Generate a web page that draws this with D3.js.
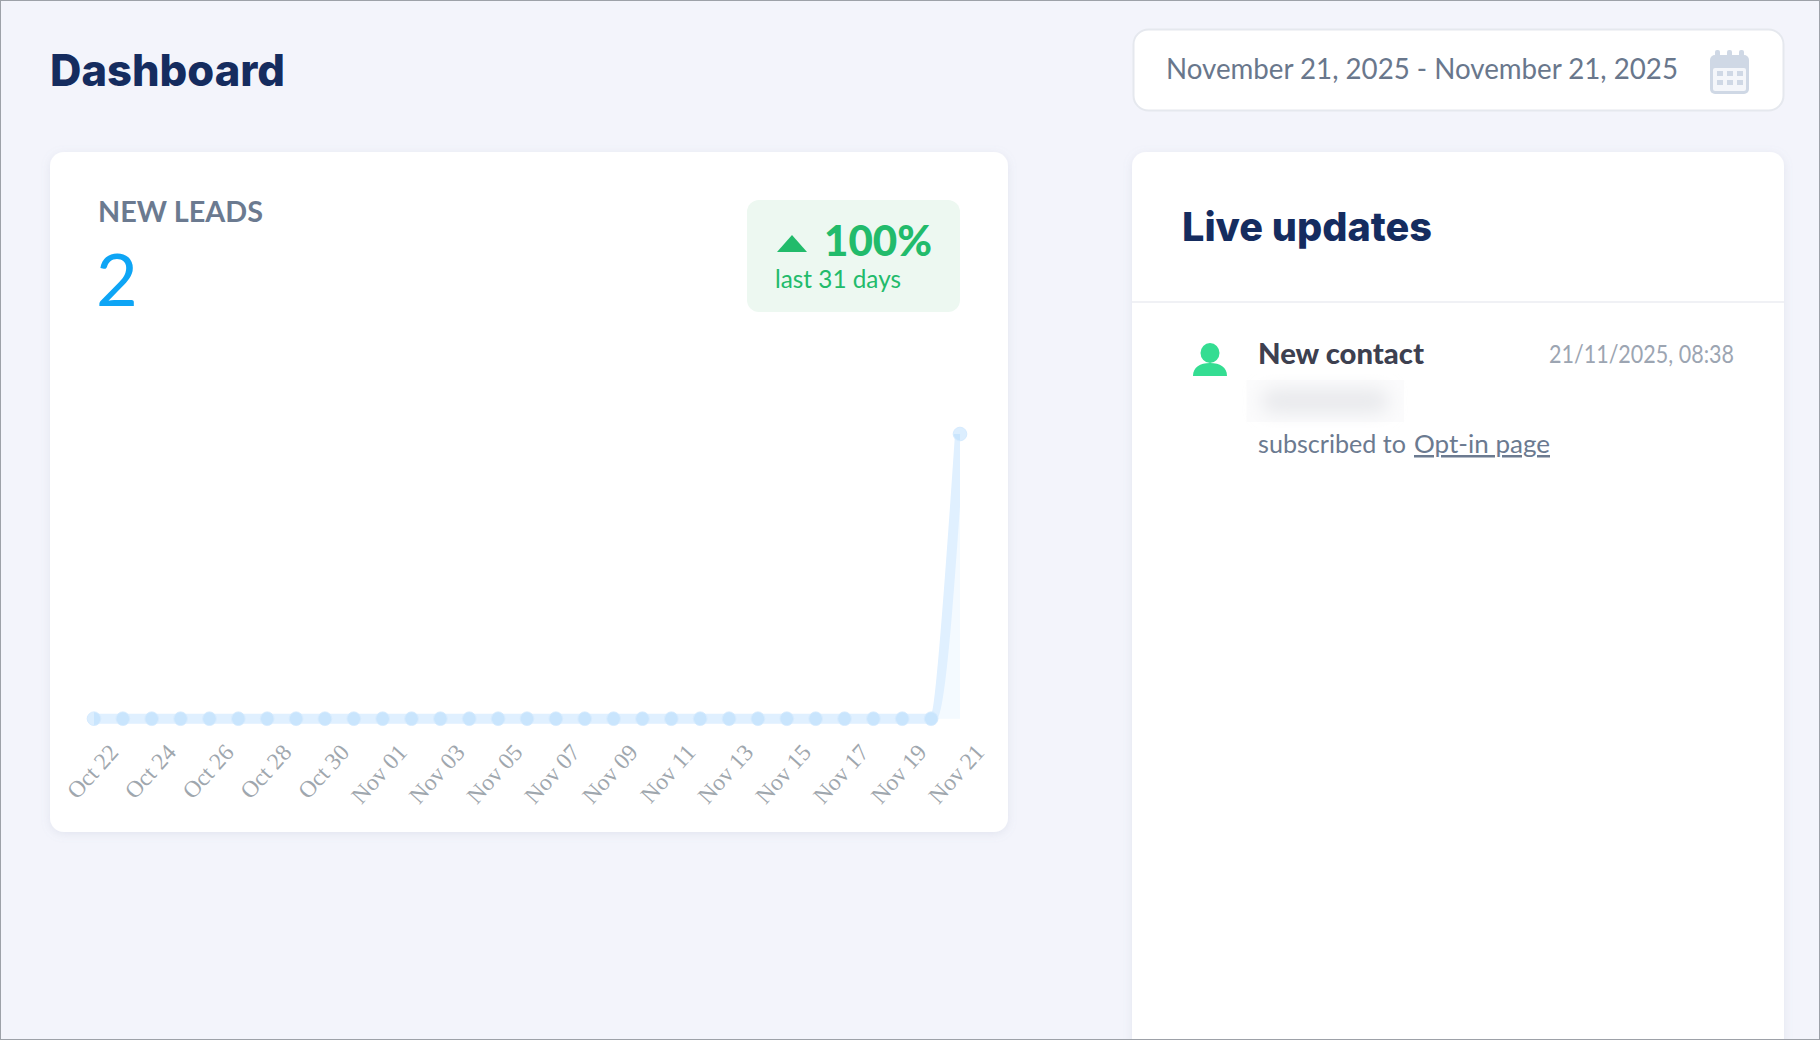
<!DOCTYPE html>
<html>
<head>
<meta charset="utf-8">
<script src="https://cdn.jsdelivr.net/npm/d3@7"></script>
<style>
  html, body { margin: 0; padding: 0; background: #f3f4fb; overflow: hidden; }
  svg { display: block; }
  .ui { font-family: Lato, sans-serif; }
  .head { font-family: Inter, sans-serif; font-weight: 800; fill: #152c5f; }
  .tick text { font-family: "Liberation Serif", serif; font-size: 23.5px; fill: #9fa7ae; }
</style>
</head>
<body>
<svg id="page" width="1820" height="1040"></svg>
<script>
// daily new leads, last 31 days
const days = ['Oct 22','Oct 23','Oct 24','Oct 25','Oct 26','Oct 27','Oct 28','Oct 29','Oct 30','Oct 31',
  'Nov 01','Nov 02','Nov 03','Nov 04','Nov 05','Nov 06','Nov 07','Nov 08','Nov 09','Nov 10',
  'Nov 11','Nov 12','Nov 13','Nov 14','Nov 15','Nov 16','Nov 17','Nov 18','Nov 19','Nov 20','Nov 21'];
const leads = [0,0,0,0,0,0,0,0,0,0, 0,0,0,0,0,0,0,0,0,0, 0,0,0,0,0,0,0,0,0,0, 2];
const tickLabels = ['Oct 22','Oct 24','Oct 26','Oct 28','Oct 30','Nov 01','Nov 03','Nov 05',
  'Nov 07','Nov 09','Nov 11','Nov 13','Nov 15','Nov 17','Nov 19','Nov 21'];
const calendarCols = [0, 1, 2];
const calendarRows = [0, 1];

const svg = d3.select('#page');
const defs = svg.append('defs');

let soft = defs.append('filter').attr('id', 'soft')
  .attr('x', '-10%').attr('y', '-10%').attr('width', '120%').attr('height', '130%');
soft.append('feDropShadow').attr('dx', 0).attr('dy', 2).attr('stdDeviation', 5)
  .attr('flood-color', '#8a94b0').attr('flood-opacity', 0.16);
defs.append('filter').attr('id', 'smear')
  .attr('x', '-30%').attr('y', '-60%').attr('width', '160%').attr('height', '220%')
  .append('feGaussianBlur').attr('stdDeviation', 9);

// w squeezes the text to the width measured on the reference
function label(g, str, x, y, size, fill, weight, w, cls) {
  let t = g.append('text')
    .attr('class', cls || 'ui')
    .attr('x', x).attr('y', y)
    .attr('font-size', size)
    .attr('font-weight', weight || 400)
    .attr('fill', fill)
    .text(str);
  if (w) t.attr('textLength', w).attr('lengthAdjust', 'spacingAndGlyphs');
  return t;
}

svg.append('rect').attr('width', 1820).attr('height', 1040).attr('fill', '#f3f4fb');

label(svg, 'Dashboard', 50, 86, 44, '#152c5f', 800, 235, 'head');

// date picker
svg.append('rect').attr('x', 1133.5).attr('y', 29.5).attr('width', 650).attr('height', 81).attr('rx', 15)
  .attr('fill', '#fff').attr('stroke', '#e5e8ee').attr('stroke-width', 2);
label(svg, 'November 21, 2025 - November 21, 2025', 1166, 79, 29, '#69778c', 400, 512);

let cal = svg.append('g').attr('transform', 'translate(1710,50)').attr('fill', '#cfd8e5');
cal.append('rect').attr('y', 5).attr('width', 39).attr('height', 39).attr('rx', 5);
cal.selectAll('.peg').data(calendarCols).join('rect').attr('class', 'peg')
  .attr('x', d => 5 + d * 12).attr('width', 5).attr('height', 10).attr('rx', 2);
cal.append('rect').attr('x', 3).attr('y', 18).attr('width', 33).attr('height', 23).attr('rx', 2).attr('fill', '#f4f6fa');
calendarRows.forEach(r => {
  cal.selectAll('.cell' + r).data(calendarCols).join('rect').attr('class', 'cell' + r)
    .attr('x', d => 7 + d * 10).attr('y', 21 + r * 9).attr('width', 6).attr('height', 5);
});

// leads card
svg.append('rect').attr('x', 50).attr('y', 152).attr('width', 958).attr('height', 680).attr('rx', 14)
  .attr('fill', '#fff').attr('filter', 'url(#soft)');
label(svg, 'NEW LEADS', 98, 222, 28, '#6b7a90', 700, 165);
label(svg, '2', 96, 306, 72, '#0ea5f5', 400);

svg.append('rect').attr('x', 747).attr('y', 200).attr('width', 213).attr('height', 112).attr('rx', 12).attr('fill', '#edf8f1');
svg.append('path').attr('d', d3.line()([[777, 252], [792, 235], [807, 252]]) + 'Z').attr('fill', '#22bb6b');
label(svg, '100%', 824, 256, 42, '#22bb6b', 900, 108);
label(svg, 'last 31 days', 775, 288, 25, '#22bb6b', 400, 126);

// chart
const x = d3.scalePoint().domain(days).range([94, 960]);
const y = d3.scaleLinear().domain([0, 2]).range([718.7, 434]);

defs.append('clipPath').attr('id', 'plot').append('rect')
  .attr('x', x.range()[0]).attr('y', y.range()[1])
  .attr('width', x.range()[1] - x.range()[0]).attr('height', 320);

const series = days.map((d, i) => ({ day: d, value: leads[i] }));

let chart = svg.append('g');

chart.append('path').datum(series)
  .attr('fill', '#f4faff')
  .attr('d', d3.area().curve(d3.curveMonotoneX).x(d => x(d.day)).y0(y(0)).y1(d => y(d.value)));

chart.append('path').datum(series)
  .attr('fill', 'none').attr('stroke', '#e0f0ff').attr('stroke-width', 10)
  .attr('clip-path', 'url(#plot)')
  .attr('d', d3.line().curve(d3.curveMonotoneX).x(d => x(d.day)).y(d => y(d.value)));

chart.selectAll('.dot-light').data(series).join('circle').attr('class', 'dot-light')
  .attr('cx', d => x(d.day)).attr('cy', d => y(d.value)).attr('r', 6.8)
  .attr('fill', '#dceefe').attr('stroke', '#d6ebfe').attr('stroke-width', 1);
chart.append('g').attr('clip-path', 'url(#plot)')
  .selectAll('.dot').data(series).join('circle').attr('class', 'dot')
  .attr('cx', d => x(d.day)).attr('cy', d => y(d.value)).attr('r', 6.4)
  .attr('fill', '#c9e5fd');

let axis = svg.append('g').attr('transform', 'translate(0,' + y(0) + ')')
  .call(d3.axisBottom(x).tickValues(tickLabels).tickSize(0));
axis.select('.domain').remove();
axis.selectAll('.tick text')
  .attr('text-anchor', 'end')
  .attr('transform', 'translate(19,29) rotate(-48)')
  .attr('x', 0).attr('y', 0).attr('dy', '0.35em');

// live updates card
svg.append('rect').attr('x', 1132).attr('y', 152).attr('width', 652).attr('height', 920).attr('rx', 14)
  .attr('fill', '#fff').attr('filter', 'url(#soft)');
label(svg, 'Live updates', 1182, 240.7, 40, '#152c5f', 800, 250, 'head');
svg.append('line').attr('x1', 1132).attr('x2', 1784).attr('y1', 302).attr('y2', 302)
  .attr('stroke', '#f0f1f5').attr('stroke-width', 2);

let person = svg.append('g').attr('fill', '#34dd92');
person.append('ellipse').attr('cx', 1210).attr('cy', 353).attr('rx', 9.5).attr('ry', 10);
person.append('path').attr('d', 'M1193,376 C1193,367 1200,363 1210,363 C1220,363 1227,367 1227,376 Z');

label(svg, 'New contact', 1258, 363.5, 28, '#3d4050', 900, 166);
label(svg, '21/11/2025, 08:38', 1549, 362.5, 25, '#9ca5b2', 400, 185);

svg.append('rect').attr('x', 1246.5).attr('y', 380).attr('width', 157.5).attr('height', 42).attr('fill', '#fbfbfc');
svg.append('rect').attr('x', 1262).attr('y', 389).attr('width', 126).attr('height', 24).attr('rx', 10)
  .attr('fill', '#e8e9ec').attr('filter', 'url(#smear)');

label(svg, 'subscribed to', 1258, 453, 25, '#6b7a90', 400, 148);
label(svg, 'Opt-in page', 1414, 453, 25, '#6b7a90', 400, 136).attr('text-decoration', 'underline');

svg.append('rect').attr('x', 0.5).attr('y', 0.5).attr('width', 1819).attr('height', 1039)
  .attr('fill', 'none').attr('stroke', '#9da1a8');
</script>
</body>
</html>
